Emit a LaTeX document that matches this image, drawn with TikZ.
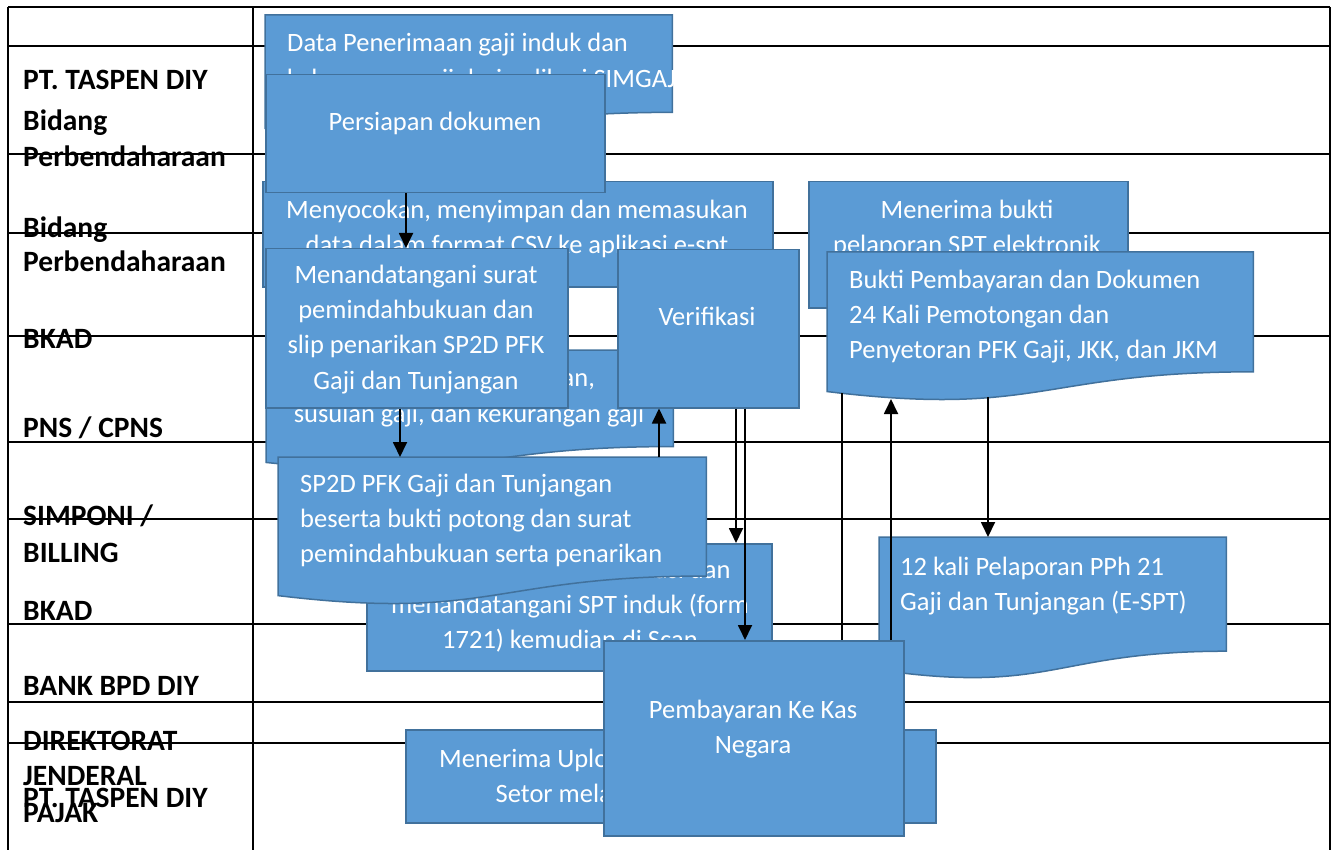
\documentclass[tikz,border=0pt]{standalone}
\usepackage{fontspec}
\setmainfont{Carlito}
\usetikzlibrary{calc,arrows.meta}

\definecolor{boxblue}{HTML}{5B9BD5}
\definecolor{boxedge}{HTML}{41719C}

\tikzset{
  frame/.style={line width=1.9pt, black},
  lane/.style={font=\bfseries\fontsize{29.5}{35}\selectfont, anchor=base west, inner sep=0pt},
  procbox/.style={draw=boxedge, fill=boxblue, line width=1.5pt, inner sep=0pt, anchor=north west},
  docframe/.style={inner sep=0pt, anchor=north west},
  docfill/.style={draw=boxedge, fill=boxblue, line width=1.5pt},
  % multi-line texts are placed by the baseline of their last line
  boxtext/.style={text=white, font=\fontsize{26.5}{35.3}\selectfont, inner sep=0pt, align=center, anchor=base},
  boxtextl/.style={boxtext, align=left, anchor=base west},
  flow/.style={line width=1.8pt, -{Triangle[width=14pt,length=15pt]}},
  plainline/.style={line width=1.8pt},
}

% flowchart "document" outline over an invisible frame node
\newcommand{\docoutline}[1]{%
  \path[docfill] (#1.north west) -- (#1.north east)
    -- ($(#1.north east)!0.802!(#1.south east)$)
    .. controls ($(#1.north)!0.802!(#1.south)$) and ($(#1.north)!1.1075!(#1.south)$)
    .. ($(#1.north west)!0.934!(#1.south west)$) -- cycle;}

\begin{document}
\begin{tikzpicture}[x=1pt,y=-1pt]
\useasboundingbox (0,0) rectangle (1332,850);

% ---- swimlane table ----
\draw[frame] (8,7) -- (1330,7);
\foreach \yy in {46,154,233,336,442,519,624,702,743}
  \draw[frame] (8,\yy) -- (1330,\yy);
\draw[frame] (8,7) -- (8,850);
\draw[frame] (253,7) -- (253,850);
\draw[frame] (1330,7) -- (1330,850);

% ---- lane labels ----
\node[lane] (lane1)  at (23,90)  {PT. TASPEN DIY};
\node[lane] (lane2a) at (23,131) {Bidang};
\node[lane] (lane2b) at (23,167) {Perbendaharaan};
\node[lane] (lane3a) at (23,237) {Bidang};
\node[lane] (lane3b) at (23,272) {Perbendaharaan};
\node[lane] (lane4)  at (23,348) {BKAD};
\node[lane] (lane5)  at (23,437) {PNS / CPNS};
\node[lane] (lane6a) at (23,525) {SIMPONI /};
\node[lane] (lane6b) at (23,562) {BILLING};
\node[lane] (lane7)  at (23,620) {BKAD};
\node[lane] (lane8)  at (23,695) {BANK BPD DIY};
\node[lane] (lane9a) at (23,750) {DIREKTORAT};
\node[lane] (lane9b) at (23,785) {JENDERAL};
\node[lane] (lane9c) at (23,822) {PAJAK};
\node[lane] (lane10) at (23,807) {PT. TASPEN DIY};

% ---- process steps (back to front) ----
\node[docframe, minimum width=407pt, minimum height=121pt] (datagaji) at (265,15) {};
\docoutline{datagaji}
\node[boxtextl] (datagaji-t) at (287,87.3) {Data Penerimaan gaji induk dan\\kekurangan gaji dari aplikasi SIMGAJI};

\node[procbox, minimum width=510pt, minimum height=105pt] (csv) at (262,181) {};
\node[boxtext] (csv-t) at (517,253.3) {Menyocokan, menyimpan dan memasukan\\data dalam format CSV ke aplikasi e-spt};

\node[procbox, minimum width=339pt, minimum height=118pt] (persiapan) at (265,74) {};
\node[boxtext] (persiapan-t) at (435,131) {Persiapan dokumen};

\node[procbox, minimum width=319pt, minimum height=126pt] (terima) at (808,181) {};
\node[boxtext] (terima-t) at (967,253.3) {Menerima bukti\\pelaporan SPT elektronik};

\node[docframe, minimum width=407pt, minimum height=120pt] (susulan) at (266,350) {};
\docoutline{susulan}
\node[boxtext] (susulan-t) at (469,422) {Gaji induk, gaji terusan,\\susulan gaji, dan kekurangan gaji};

\node[procbox, minimum width=302pt, minimum height=159pt] (ttd) at (265,248) {};
\node[boxtext] (ttd-t) at (416,389) {Menandatangani surat\\pemindahbukuan dan\\slip penarikan SP2D PFK\\Gaji dan Tunjangan};

\node[procbox, minimum width=181pt, minimum height=158pt] (verif) at (617,249) {};
\node[boxtext] (verif-t) at (707,325) {Verifikasi};

\node[procbox, minimum width=405pt, minimum height=127pt] (sptinduk) at (366,543) {};
\node[boxtext] (sptinduk-t) at (570,648.6) {Mengecek, memverifikasi dan\\menandatangani SPT induk (form\\1721) kemudian di Scan};

\node[docframe, minimum width=428pt, minimum height=148pt] (sp2d) at (278,457) {};
\docoutline{sp2d}
\node[boxtextl] (sp2d-t) at (300,562.6) {SP2D PFK Gaji dan Tunjangan\\beserta bukti potong dan surat\\pemindahbukuan serta penarikan};

\node[docframe, minimum width=347pt, minimum height=142pt] (espt) at (879,537) {};
\docoutline{espt}
\node[boxtextl] (espt-t) at (900,610.3) {12 kali Pelaporan PPh 21\\Gaji dan Tunjangan (E-SPT)};

\node[procbox, minimum width=530pt, minimum height=93pt] (upload) at (405,729) {};
\node[boxtext] (upload-t) at (670,802.3) {Menerima Upload SPT Elektronik dan Bukti\\Setor melalui aplikasi DJP Online};

\node[procbox, minimum width=300pt, minimum height=195pt] (bayar) at (603,640) {};
\node[boxtext] (bayar-t) at (753,753.3) {Pembayaran Ke Kas\\Negara};

\node[docframe, minimum width=426pt, minimum height=149pt] (bukti) at (827,252) {};
\docoutline{bukti}
\node[boxtextl] (bukti-t) at (849,358.6) {Bukti Pembayaran dan Dokumen\\24 Kali Pemotongan dan\\Penyetoran PFK Gaji, JKK, dan JKM};

% ---- connectors ----
\coordinate (c406) at (406,0);
\coordinate (c400) at (400,0);
\coordinate (c659) at (659,0);
\coordinate (c736) at (736,0);
\coordinate (c745) at (745,0);
\coordinate (bukti-w1) at (842,393);
\coordinate (bukti-w2) at (891,399);
\coordinate (bukti-w3) at (988,397);

\draw[flow] (persiapan.south -| c406) -- (ttd.north -| c406);
\draw[flow] (ttd.south -| c400) -- (sp2d.north -| c400);
\draw[flow] (sp2d.north -| c659) -- (verif.south -| c659);
\draw[flow] (verif.south -| c736) -- (sptinduk.north -| c736);
\draw[flow] (verif.south -| c745) -- (bayar.north -| c745);
\draw[plainline] (bukti-w1) -- (bayar.north -| bukti-w1);
\draw[flow] (bayar.north -| bukti-w2) -- (bukti-w2);
\draw[flow] (bukti-w3) -- (espt.north -| bukti-w3);
\end{tikzpicture}
\end{document}
